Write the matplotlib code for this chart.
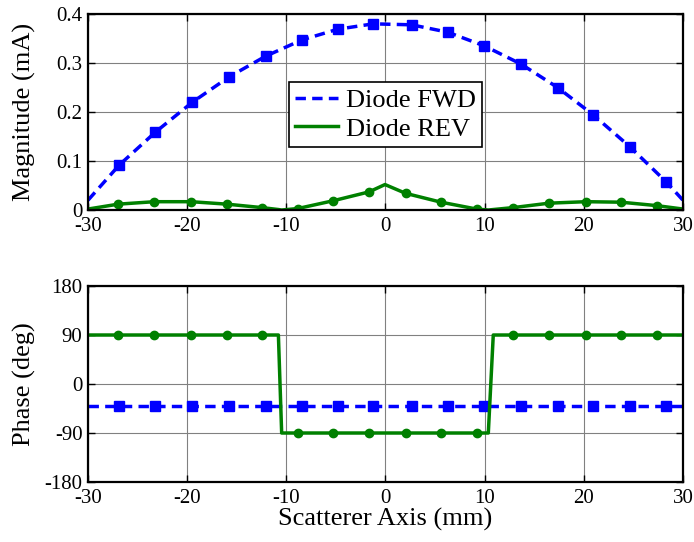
import matplotlib.pyplot as plt
from matplotlib.lines import Line2D

plt.rcParams['font.family'] = ['Liberation Serif', 'DejaVu Serif']
plt.rcParams['axes.unicode_minus'] = False

# scan positions (mm) and measured values
fwd_x = [-30, -26.84, -23.2, -19.48, -15.75, -12.08, -8.45, -4.82, -1.23,
         2.64, 6.27, 9.97, 13.66, 17.36, 20.96, 24.65, 28.28, 30]
fwd_mag = [0.020, 0.092, 0.159, 0.220, 0.272, 0.314, 0.347, 0.369, 0.380,
           0.378, 0.363, 0.335, 0.298, 0.250, 0.194, 0.129, 0.058, 0.020]
fwd_phase = [-40] * len(fwd_x)

rev_x = [-30, -26.94, -23.31, -19.6, -16.0, -12.49, -10.8, -10.47, -8.85,
         -5.26, -1.66, -0.05, 2.04, 5.6, 9.19, 10.37, 10.87, 12.9, 16.5,
         20.19, 23.75, 27.35, 30]
rev_mag = [0.002, 0.012, 0.017, 0.017, 0.012, 0.005, 0.001, 0.000, 0.003,
           0.019, 0.037, 0.052, 0.034, 0.016, 0.002, 0.000, 0.001, 0.005,
           0.014, 0.017, 0.016, 0.009, 0.002]
rev_phase = [90, 90, 90, 90, 90, 90, 90, -90, -90, -90, -90, -90, -90, -90,
             -90, -90, 90, 90, 90, 90, 90, 90, 90]

# which samples carry a marker
fwd_marks = list(range(1, len(fwd_x) - 1))
rev_marks = [1, 2, 3, 4, 5, 8, 9, 10, 12, 13, 14, 17, 18, 19, 20, 21]

blue = (0, 0, 1)
green = (0, 0.5, 0)

fig = plt.figure(figsize=(6.94, 5.42), dpi=100)
ax1 = fig.add_axes([0.1268, 0.6125, 0.8573, 0.3616])
ax2 = fig.add_axes([0.1268, 0.1107, 0.8573, 0.3616])

ax1.plot(fwd_x, fwd_mag, '--', color=blue, lw=2.5, dashes=(3, 1.8),
         marker='s', ms=7.5, markevery=fwd_marks)
ax1.plot(rev_x, rev_mag, '-', color=green, lw=2.5,
         marker='o', ms=6, markevery=rev_marks)

ax2.plot(fwd_x, fwd_phase, '--', color=blue, lw=2.5, dashes=(3, 1.8),
         marker='s', ms=7.5, markevery=fwd_marks)
ax2.plot(rev_x, rev_phase, '-', color=green, lw=2.5,
         marker='o', ms=6, markevery=rev_marks)

ax1.set_ylim(0, 0.4)
ax1.set_yticks([0, 0.1, 0.2, 0.3, 0.4])
ax1.set_yticklabels(['0', '0.1', '0.2', '0.3', '0.4'])
ax1.set_ylabel('Magnitude (mA)', fontsize=19)

ax2.set_ylim(-180, 180)
ax2.set_yticks([-180, -90, 0, 90, 180])
ax2.set_ylabel('Phase (deg)', fontsize=19)
ax2.set_xlabel('Scatterer Axis (mm)', fontsize=19, labelpad=0)

for ax in (ax1, ax2):
    ax.set_xlim(-30, 30)
    ax.set_xticks(range(-30, 31, 10))
    ax.grid(True, color='#808080', lw=0.8)
    ax.set_axisbelow(True)
    ax.tick_params(direction='in', top=True, right=True, length=5,
                   width=1, labelsize=15)
    ax.tick_params(axis='x', pad=5)
    ax.tick_params(axis='y', pad=4)
    ax.yaxis.set_label_coords(-0.087, 0.5)
    for s in ax.spines.values():
        s.set_linewidth(1.6)

handles = [Line2D([], [], color=blue, lw=2.5, ls='--', dashes=(3, 1.8)),
           Line2D([], [], color=green, lw=2.5)]
leg = ax1.legend(handles, ['Diode FWD', 'Diode REV'], loc='center',
                 bbox_to_anchor=(0.5, 0.487), fontsize=19, fancybox=False,
                 framealpha=1, edgecolor='black', handlelength=1.6,
                 handletextpad=0.3, borderpad=0.25, labelspacing=0.2,
                 borderaxespad=0)
leg.get_frame().set_linewidth(1.2)

fig.savefig('out.png', dpi=100)
